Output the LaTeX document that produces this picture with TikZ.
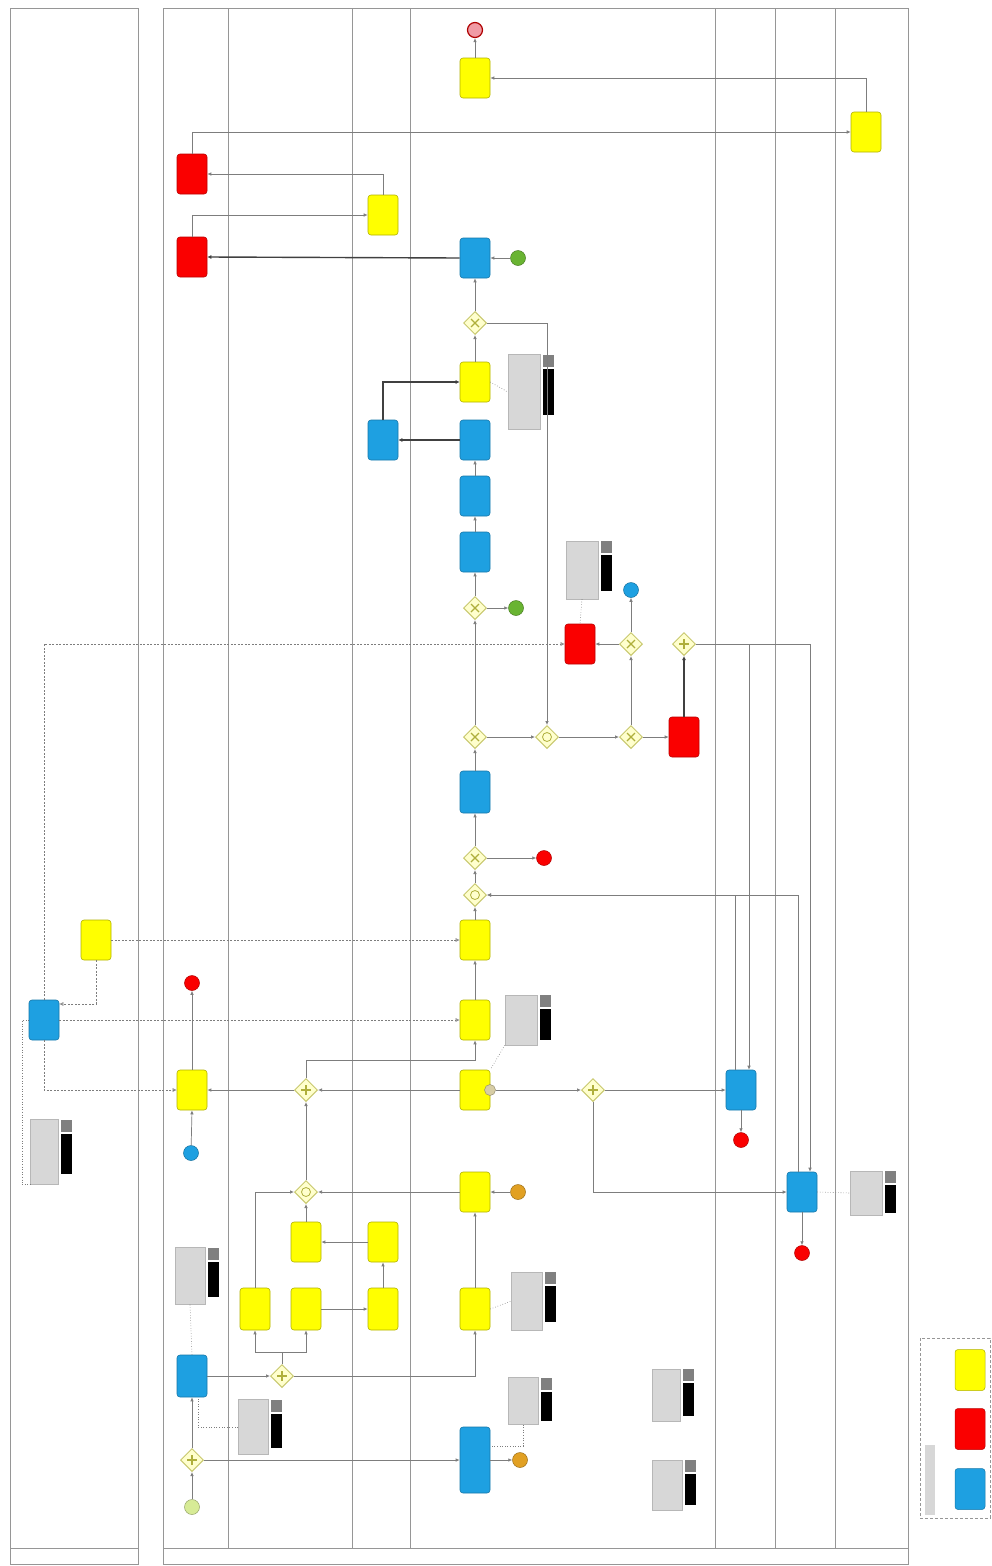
\documentclass[tikz,border=0pt]{standalone}
\usetikzlibrary{shapes.geometric,arrows.meta,calc}
\definecolor{bpblue}{RGB}{30,160,225}
\definecolor{bpyel}{RGB}{255,255,0}
\definecolor{bpred}{RGB}{250,0,0}
\definecolor{gwfill}{RGB}{255,255,205}
\definecolor{gwline}{RGB}{200,200,110}
\definecolor{gwmarkc}{RGB}{175,175,60}
\definecolor{lanegray}{RGB}{150,150,150}
\definecolor{flowgray}{RGB}{125,125,125}
\definecolor{annogray}{RGB}{215,215,215}
\definecolor{evgreen}{RGB}{105,180,50}
\definecolor{evlight}{RGB}{215,235,150}
\definecolor{evorange}{RGB}{225,160,35}
\definecolor{evpink}{RGB}{240,155,165}
\definecolor{evbeige}{RGB}{215,205,165}

% gateway markers
\newcommand\markx[1]{\draw[gwmark] ([shift={(-4pt,-4pt)}]#1.center) -- ([shift={(4pt,4pt)}]#1.center) ([shift={(-4pt,4pt)}]#1.center) -- ([shift={(4pt,-4pt)}]#1.center);}
\newcommand\markplus[1]{\draw[gwmark] ([shift={(-5pt,0pt)}]#1.center) -- ([shift={(5pt,0pt)}]#1.center) ([shift={(0pt,-5pt)}]#1.center) -- ([shift={(0pt,5pt)}]#1.center);}
\newcommand\markcirc[1]{\draw[gwmark,line width=0.8pt] (#1.center) circle[radius=4.5pt];}
% text annotation with its two tags
\newcommand\annot[5]{%
  \node[annobox, minimum width=#4pt, minimum height=#5pt] (#1) at (#2,#3) {};
  \node[badgeg, anchor=north west] (#1g) at ([xshift=2.5pt]#1.north east) {};
  \node[badgek, anchor=north west, minimum height={0.62*#5pt}] (#1k) at ([yshift=-2pt]#1g.south west) {};}

\begin{document}
\begin{tikzpicture}[x=1pt,y=-1pt,
  task/.style={rounded corners=3pt, minimum width=30pt, minimum height=40pt, inner sep=0pt, line width=0.6pt},
  ytask/.style={task, fill=bpyel, draw=bpyel!70!black},
  rtask/.style={task, fill=bpred, draw=bpred!75!black},
  btask/.style={task, fill=bpblue, draw=bpblue!75!black},
  gw/.style={diamond, minimum width=23pt, minimum height=23pt, inner sep=0pt, fill=gwfill, draw=gwline, line width=1pt},
  gwmark/.style={draw=gwmarkc, line width=1.2pt},
  ev/.style={circle, minimum size=15pt, inner sep=0pt, line width=0.5pt},
  flow/.style={draw=flowgray, line width=0.7pt, -{Latex[length=4pt,width=3.5pt]}},
  thickflow/.style={draw=black!75, line width=1.4pt, -{Latex[length=4pt,width=4pt]}},
  msg/.style={draw=flowgray, line width=0.6pt, dash pattern=on 2pt off 1.5pt, -{Latex[open,length=4pt,width=4pt]}},
  assoc/.style={draw=flowgray, line width=0.6pt, dotted},
  annobox/.style={fill=annogray, draw=annogray!85!black, line width=0.3pt, inner sep=0pt},
  badgeg/.style={fill=black!50, minimum width=11pt, minimum height=12pt, inner sep=0pt},
  badgek/.style={fill=black, minimum width=11pt, inner sep=0pt},
  laneline/.style={draw=lanegray, line width=0.8pt},
  legbox/.style={rounded corners=3pt, minimum width=30pt, minimum height=41pt, inner sep=0pt, line width=0.5pt}]

\fill[white] (0,0) rectangle (992,1566);
\useasboundingbox (0,0) rectangle (992,1566);

% ---- pools and lanes ----
\draw[laneline] (10,8) rectangle (138,1564);
\draw[laneline] (10,1548) -- (138,1548);
\draw[laneline] (163,8) rectangle (908,1564);
\draw[laneline] (163,1548) -- (908,1548);
\foreach \x in {228,352,410,715,775,835}
  \draw[laneline] (\x,8) -- (\x,1548);

% ---- legend ----
\draw[lanegray, dash pattern=on 3pt off 2pt, line width=0.5pt] (920,1338) rectangle (990,1518);
\node[fill=annogray, minimum width=10pt, minimum height=70pt, inner sep=0pt] (legtitle) at (930,1480) {};
\node[legbox, fill=bpyel, draw=bpyel!70!black] (legy) at (970,1370) {};
\node[legbox, fill=bpred, draw=bpred!75!black] (legr) at (970,1429) {};
\node[legbox, fill=bpblue, draw=bpblue!75!black] (legb) at (970,1489) {};

% ---- left pool ----
\node[btask] (t30) at (44,1020) {};
\node[ytask] (t31) at (96,940) {};
\annot{a11}{44}{1152}{28}{65}

% ---- lane 1 ----
\node[ev, fill=evlight, draw=evlight!70!black] (s1) at (192,1507) {};
\node[gw] (g1) at (192,1460) {}; \markplus{g1}
\node[btask, minimum height=42pt] (t1) at (192,1376) {};
\annot{a1}{190}{1276}{30}{57}
\node[ev, fill=bpblue, draw=bpblue!70!black] (e1) at (191,1153) {};
\node[ytask] (t2) at (192,1090) {};
\node[ev, fill=bpred, draw=bpred!70!black] (e2) at (192,983) {};
\node[rtask] (t3) at (192,257) {};
\node[rtask] (t4) at (192,174) {};

% ---- lane 2 ----
\node[gw] (g2) at (282,1376) {}; \markplus{g2}
\coordinate (c1) at (282,1352);
\annot{a2}{253}{1427}{30}{55}
\node[ytask, minimum height=42pt] (t5) at (255,1309) {};
\node[ytask, minimum height=42pt] (t6) at (306,1309) {};
\node[ytask] (t7) at (306,1242) {};
\node[gw] (g3) at (306,1192) {}; \markcirc{g3}
\node[gw] (g4) at (306,1090) {}; \markplus{g4}

% ---- lane 3 ----
\node[ytask, minimum height=42pt] (t8) at (383,1309) {};
\node[ytask] (t9) at (383,1242) {};
\node[btask] (t10) at (383,440) {};
\node[ytask] (t11) at (383,215) {};

% ---- lane 4 ----
\node[btask, minimum height=66pt] (t12) at (475,1460) {};
\node[ev, fill=evorange, draw=evorange!70!black] (e3) at (520,1460) {};
\annot{a3}{523}{1401}{30}{47}
\node[ytask, minimum height=42pt] (t13) at (475,1309) {};
\annot{a4}{527}{1301}{31}{58}
\node[ytask] (t14) at (475,1192) {};
\node[ev, fill=evorange, draw=evorange!70!black] (e4) at (518,1192) {};
\node[ytask] (t15) at (475,1090) {};
\node[ev, minimum size=11pt, fill=evbeige, draw=evbeige!70!black] (e5) at (490,1090) {};
\annot{a5}{521}{1020}{32}{50}
\node[ytask] (t16) at (475,1020) {};
\node[ytask] (t17) at (475,940) {};
\node[gw] (g5) at (475,895) {}; \markcirc{g5}
\node[gw] (g6) at (475,858) {}; \markx{g6}
\node[ev, fill=bpred, draw=bpred!70!black] (e6) at (544,858) {};
\node[btask, minimum height=42pt] (t18) at (475,792) {};
\node[gw] (g7) at (475,737) {}; \markx{g7}
\node[gw] (g8) at (547,737) {}; \markcirc{g8}
\node[gw] (g9) at (631,737) {}; \markx{g9}
\node[rtask] (t19) at (684,737) {};
\node[gw] (g10) at (631,644) {}; \markx{g10}
\node[rtask] (t20) at (580,644) {};
\node[ev, fill=bpblue, draw=bpblue!70!black] (e7) at (631,590) {};
\node[gw] (g11) at (684,644) {}; \markplus{g11}
\annot{a6}{582}{570}{32}{58}
\node[gw] (g12) at (475,608) {}; \markx{g12}
\node[ev, fill=evgreen, draw=evgreen!70!black] (e8) at (516,608) {};
\node[btask] (t21) at (475,552) {};
\node[btask] (t22) at (475,496) {};
\node[btask] (t23) at (475,440) {};
\node[ytask] (t24) at (475,382) {};
\annot{a7}{524}{392}{32}{75}
\node[gw] (g13) at (475,323) {}; \markx{g13}
\node[btask] (t25) at (475,258) {};
\node[ev, fill=evgreen, draw=evgreen!70!black] (e9) at (518,258) {};
\node[ytask] (t26) at (475,78) {};
\node[ev, fill=evpink, draw=bpred!70!black, line width=1.2pt] (e10) at (475,30) {};
\node[gw] (g14) at (593,1090) {}; \markplus{g14}
\annot{a8}{666}{1395}{28}{52}
\annot{a9}{667}{1485}{30}{50}

% ---- lanes 5 to 7 ----
\node[btask] (t27) at (741,1090) {};
\node[ev, fill=bpred, draw=bpred!70!black] (e11) at (741,1140) {};
\node[btask] (t28) at (802,1192) {};
\node[ev, fill=bpred, draw=bpred!70!black] (e12) at (802,1253) {};
\node[ytask] (t29) at (866,132) {};
\annot{a10}{866}{1193}{32}{44}

% ---- sequence flows ----
\draw[flow] (s1) -- (g1);
\draw[flow] (g1) -- (t1);
\draw[flow] (g1) -- (t12);
\draw[flow] (t1) -- (g2);
\draw[flow] (g2.east) -| (t13.south);
\draw[draw=flowgray, line width=0.7pt] (g2.north) -- (c1);
\draw[flow] (c1) -| (t5.south);
\draw[flow] (c1) -| (t6.south);
\draw[flow] (t5.north) |- (g3.west);
\draw[flow] (t6.east) -- (t8.west);
\draw[flow] (t8.north) -- (t9.south);
\draw[flow] (t9.west) -- (t7.east);
\draw[flow] (t7.north) -- (g3.south);
\draw[flow] (t13.north) -- (t14.south);
\draw[flow] (t14.west) -- (g3.east);
\draw[flow] (e4) -- (t14.east);
\draw[flow] (g3.north) -- (g4.south);
\draw[flow] (t15.west) -- (g4.east);
\draw[flow] (g4.west) -- (t2.east);
\draw[flow] (g4.north) |- ([yshift=-20pt]t16.south) -- (t16.south);
\draw[flow] (e1) -- (t2.south);
\draw[flow] (t2.north) -- (e2);
\draw[flow] (t12.east) -- (e3);
\draw[flow] (t16.north) -- (t17.south);
\draw[flow] (t17.north) -- (g5.south);
\draw[flow] (g5.north) -- (g6.south);
\draw[flow] (g6.east) -- (e6);
\draw[flow] (g6.north) -- (t18.south);
\draw[flow] (t18.north) -- (g7.south);
\draw[flow] (g7.east) -- (g8.west);
\draw[flow] (g8.east) -- (g9.west);
\draw[flow] (g9.east) -- (t19.west);
\draw[flow] (g9.north) -- (g10.south);
\draw[flow] (g10.west) -- (t20.east);
\draw[flow] (g10.north) -- (e7);
\draw[thickflow] (t19.north) -- (g11.south);
\draw[flow] (g11.east) -| ([xshift=8pt]t28.north);
\draw[flow] (g11.east) -| ([xshift=8pt]t27.north);
\draw[flow] ([xshift=-4pt]t28.north) |- (g5.east);
\draw[flow] ([xshift=-6pt]t27.north) |- (g5.east);
\draw[flow] (g7.north) -- (g12.south);
\draw[flow] (g12.east) -- (e8);
\draw[flow] (g12.north) -- (t21.south);
\draw[flow] (t21.north) -- (t22.south);
\draw[flow] (t22.north) -- (t23.south);
\draw[thickflow] (t23.west) -- (t10.east);
\draw[thickflow] (t10.north) |- (t24.west);
\draw[flow] (t24.north) -- (g13.south);
\draw[flow] (g13.north) -- (t25.south);
\draw[flow] (g13.east) -| (g8.north);
\draw[flow] (e9) -- (t25.east);
\draw[thickflow] (t25.west) -- (t3.east);
\draw[flow] (t3.north) |- (t11.west);
\draw[flow] (t11.north) |- (t4.east);
\draw[flow] (t4.north) |- (t29.west);
\draw[flow] (t29.north) |- (t26.east);
\draw[flow] (t26.north) -- (e10);
\draw[flow] (e5) -- (g14.west);
\draw[flow] (g14.east) -- (t27.west);
\draw[flow] (g14.south) |- (t28.west);
\draw[flow] (t27.south) -- (e11);
\draw[flow] (t28.south) -- (e12);

% ---- message flows ----
\draw[msg] (t30.south) |- (t2.west);
\draw[msg] (t30.east) -- (t16.west);
\draw[msg] (t30.north) |- (t20.west);
\draw[msg] (t31.east) -- (t17.west);
\draw[msg] (t31.south) |- ([yshift=16pt]t30.east);

% ---- associations ----
\draw[assoc] (t30.west) -| ([xshift=-8pt]a11.south west) -- (a11.south west);
\draw[assoc] (a1.south) -- (t1.north);
\draw[assoc] (a2.west) -| ([xshift=6pt]t1.south);
\draw[assoc] (a3.south) |- ([yshift=14pt]t12.east);
\draw[assoc] (t13.east) -- (a4.west);
\draw[assoc] (a5.south west) -- (t15.north east);
\draw[assoc] (a6.south) -- (t20.north);
\draw[assoc] (t24.east) -- (a7.west);
\draw[assoc] (t28.east) -- (a10.west);
\end{tikzpicture}
\end{document}
